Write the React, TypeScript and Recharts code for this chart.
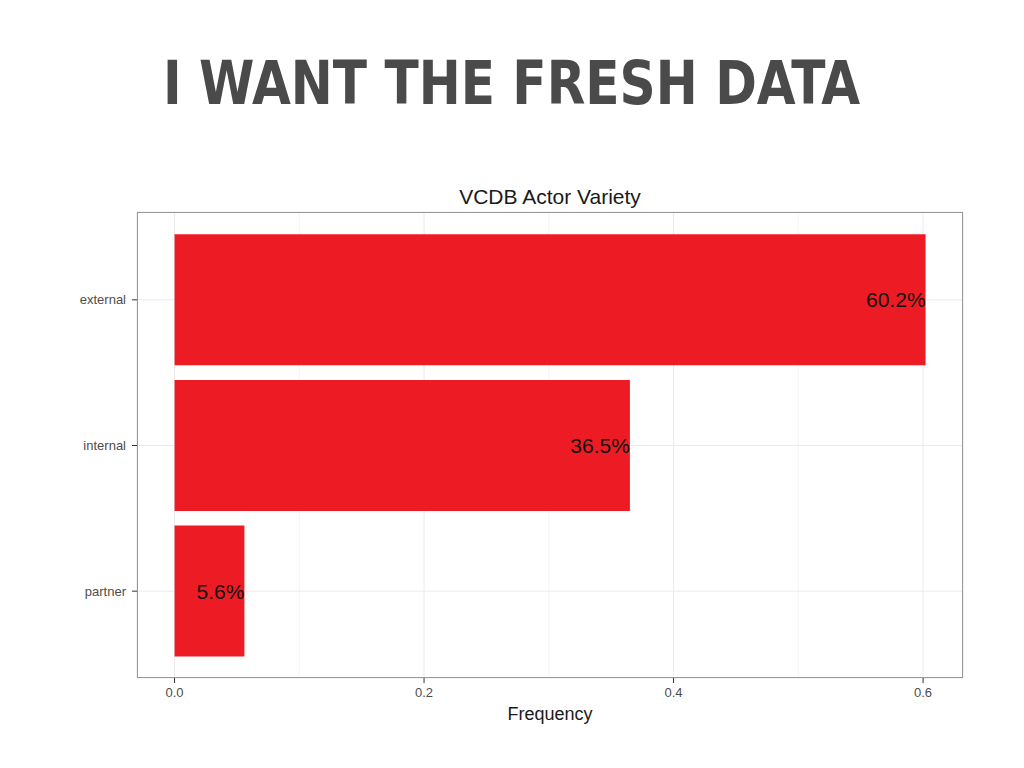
import { Bar, BarChart, CartesianGrid, LabelList, XAxis, YAxis } from "recharts";

const categories = ["external", "internal", "partner"];
const frequencies = [0.602, 0.365, 0.056];
const xTicks = [0, 0.2, 0.4, 0.6];
const minorTicks = [0.1, 0.3, 0.5];

const data = categories.map((name, i) => ({ name, value: frequencies[i] }));

const BAR_COLOR = "#ed1c24";
const X_DOMAIN: [number, number] = [-0.0301, 0.632];

function formatPct(v: any) {
    return `${(Number(v) * 100).toFixed(1)}%`;
}

export default function App() {
    return (
        <div
            style={{
                position: "absolute",
                top: 0,
                left: 0,
                width: 1024,
                height: 768,
                background: "#fff",
                fontFamily: "'Liberation Sans', Arial, sans-serif",
            }}
        >
            <svg width={1024} height={150} style={{ position: "absolute", left: 0, top: 0 }}>
                <text
                    x={163}
                    y={104}
                    textLength={697}
                    lengthAdjust="spacingAndGlyphs"
                    fontFamily="'DejaVu Sans Condensed', 'DejaVu Sans', sans-serif"
                    fontWeight="bold"
                    fontSize={60}
                    fill="#4a4a4a"
                >
                    I WANT THE FRESH DATA
                </text>
            </svg>

            <div
                style={{
                    position: "absolute",
                    left: 400,
                    width: 300,
                    top: 185,
                    textAlign: "center",
                    fontSize: 21,
                    color: "#1a1a1a",
                }}
            >
                VCDB Actor Variety
            </div>

            <BarChart
                width={1024}
                height={768}
                data={data}
                layout="vertical"
                margin={{ top: 212, right: 61, bottom: 50, left: 57 }}
                barCategoryGap="5%"
            >
                <CartesianGrid xAxisId="minor" horizontal={false} stroke="#f4f4f4" strokeWidth={1} />
                <CartesianGrid stroke="#ebebeb" strokeWidth={1} />
                <XAxis
                    xAxisId="minor"
                    type="number"
                    domain={X_DOMAIN}
                    ticks={minorTicks}
                    allowDataOverflow
                    hide
                />
                <XAxis
                    type="number"
                    domain={X_DOMAIN}
                    ticks={xTicks}
                    tickFormatter={(v) => Number(v).toFixed(1)}
                    allowDataOverflow
                    height={40}
                    tickSize={5}
                    tickMargin={5}
                    axisLine={false}
                    tickLine={{ stroke: "#333" }}
                    tick={{ fontSize: 13, fill: "#4d4d4d" }}
                />
                <YAxis
                    type="category"
                    dataKey="name"
                    width={80}
                    padding={{ top: 15, bottom: 14 }}
                    tickSize={5}
                    tickMargin={6}
                    axisLine={false}
                    tickLine={{ stroke: "#333" }}
                    tick={{ fontSize: 13, fill: "#4d4d4d" }}
                />
                <Bar dataKey="value" fill={BAR_COLOR} isAnimationActive={false}>
                    <LabelList
                        dataKey="value"
                        position="insideRight"
                        offset={0}
                        formatter={formatPct}
                        style={{ fontSize: 21, fill: "#111" }}
                    />
                </Bar>
            </BarChart>

            <div
                style={{
                    position: "absolute",
                    left: 137,
                    top: 212,
                    width: 826,
                    height: 466,
                    border: "1px solid #999",
                    boxSizing: "border-box",
                    pointerEvents: "none",
                }}
            />

            <div
                style={{
                    position: "absolute",
                    left: 400,
                    width: 300,
                    top: 704,
                    textAlign: "center",
                    fontSize: 18,
                    color: "#1a1a1a",
                }}
            >
                Frequency
            </div>
        </div>
    );
}
